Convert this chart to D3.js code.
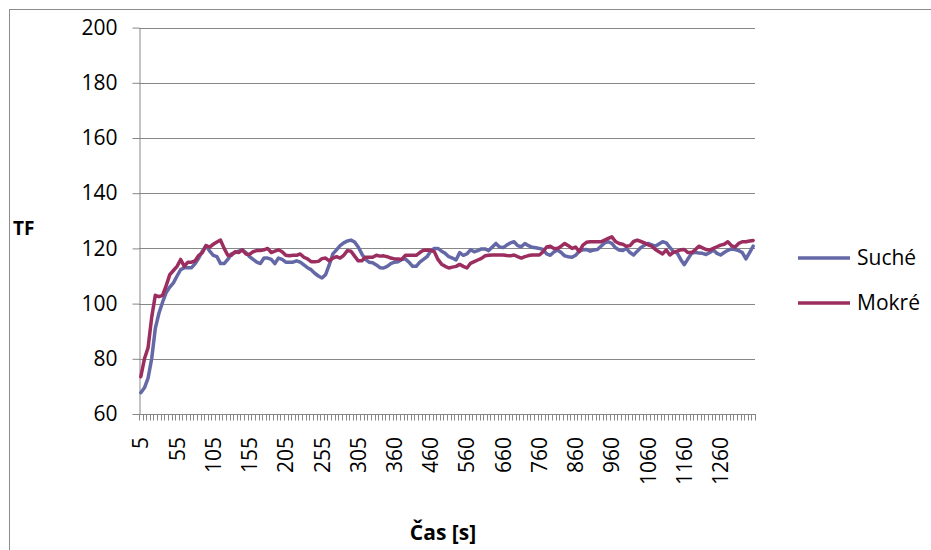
<!DOCTYPE html>
<html>
<head>
<meta charset="utf-8">
<script src="https://cdn.jsdelivr.net/npm/d3@7"></script>
<style>
  body { margin: 0; background: #fff; }
  text { font-family: "Open Sans", sans-serif; fill: #000; }
</style>
</head>
<body>
<svg id="chart" width="931" height="550"></svg>
<script>
// Time of each sample [s]
const times = [
  5, 10, 15, 20, 25, 30, 35, 40, 45, 50,
  55, 60, 65, 70, 75, 80, 85, 90, 95, 100,
  105, 110, 115, 120, 125, 130, 135, 140, 145, 150,
  155, 160, 165, 170, 175, 180, 185, 190, 195, 200,
  205, 210, 215, 220, 225, 230, 235, 240, 245, 250,
  255, 260, 265, 270, 275, 280, 285, 290, 295, 300,
  305, 310, 315, 320, 325, 330, 335, 340, 345, 350,
  360, 370, 380, 390, 400, 410, 420, 430, 440, 450,
  460, 470, 480, 490, 500, 510, 520, 530, 540, 550,
  560, 570, 580, 590, 600, 610, 620, 630, 640, 650,
  660, 670, 680, 690, 700, 710, 720, 730, 740, 750,
  760, 770, 780, 790, 800, 810, 820, 830, 840, 850,
  860, 870, 880, 890, 900, 910, 920, 930, 940, 950,
  960, 970, 980, 990, 1000, 1010, 1020, 1030, 1040, 1050,
  1060, 1070, 1080, 1090, 1100, 1110, 1120, 1130, 1140, 1150,
  1160, 1170, 1180, 1190, 1200, 1210, 1220, 1230, 1240, 1250,
  1260, 1270, 1280, 1290, 1300, 1310, 1320, 1330, 1340, 1350
];

// TF, dry surface
const suche = [
  67.7, 69.5, 73, 80, 91, 96.5, 100.5, 104, 106, 107.5,
  110, 112.3, 113, 113, 113, 114.5, 116.5, 119, 121, 119,
  117.5, 117, 114.5, 114.5, 116, 118, 118.5, 119, 119.5, 118.5,
  117, 116, 115, 114.5, 116.5, 116.5, 116, 114.5, 116.5, 116,
  115, 115, 115, 115.5, 115, 114, 113, 112.3, 111, 110,
  109.3, 110.5, 114, 118, 119.5, 121, 122, 122.7, 123, 122.3,
  120.5, 118, 116, 115, 114.8, 114, 113, 112.9, 113.5, 114.5,
  115, 115.2, 116, 116.2, 115, 113.5, 113.5, 115, 116, 117,
  119, 120, 120, 119, 118.2, 117, 116.5, 115.8, 118.5, 117.5,
  118, 119.5, 118.8, 119.2, 119.8, 119.8, 119.2, 120.5, 121.8, 120.5,
  120.3, 121.2, 122, 122.4, 121, 120.6, 121.8, 121, 120.4, 120.2,
  120, 119.6, 118, 117.5, 118.7, 119.4, 118.5, 117.3, 117, 116.8,
  117.5, 119, 119.5, 119.6, 119, 119.4, 119.6, 120.8, 122, 122.4,
  121.8, 120.2, 119.4, 119.2, 120, 118.5, 117.6, 119, 120.3, 121.2,
  121.8, 121.3, 120.8, 121.6, 122.4, 122, 120.4, 118.8, 118.4, 116,
  114.1, 116.2, 118.2, 118.6, 118.3, 118.2, 117.8, 118.5, 119.4, 118.2,
  117.6, 118.5, 119.3, 119.8, 119.6, 119.2, 118.5, 116.2, 118.5, 120.8
];

// TF, wet surface
const mokre = [
  73.5, 80, 84, 95, 103, 102.5, 103, 106.5, 110.5, 112,
  113.5, 116, 113.5, 115, 115, 115.5, 117.5, 118.5, 121, 120.5,
  121.5, 122.3, 123, 120, 117.5, 117.5, 118.8, 118.5, 119.5, 118,
  117.8, 118.8, 119.2, 119.2, 119.5, 120, 118.5, 119, 119.5, 118.8,
  117.5, 117.3, 117.5, 117.5, 118, 116.8, 116.2, 115.2, 115.2, 115.3,
  116.3, 116.5, 115.5, 116.5, 117, 116.5, 117.5, 119.2, 119, 117.2,
  115.5, 115.5, 116.8, 116.8, 116.8, 117.5, 117.2, 117.3, 117, 116.5,
  116.2, 116.2, 116, 117.5, 117.5, 117.5, 117.5, 118.5, 119.3, 119.4,
  119.3, 118.8, 116, 114.3, 113.5, 112.9, 113.2, 113.5, 114.2, 113.5,
  112.9, 114.6, 115.2, 115.8, 116.4, 117.3, 117.5, 117.6, 117.6, 117.6,
  117.6, 117.4, 117.3, 117.6, 117, 116.5, 117, 117.4, 117.6, 117.6,
  117.6, 118.8, 120.5, 120.8, 120, 120, 120.8, 121.8, 121, 120,
  120.5, 118.8, 121.2, 122.2, 122.4, 122.4, 122.4, 122.4, 123, 123.6,
  124.2, 122.5, 121.8, 121.5, 120.8, 121, 122.5, 123, 122.5, 122,
  121.3, 120.8, 119.6, 118.8, 118, 119.4, 117.6, 118.6, 119, 119.5,
  119.6, 118.5, 118.5, 119.5, 120.8, 120.2, 119.6, 119.4, 120, 120.6,
  121.2, 121.5, 122.4, 121, 120.5, 121.8, 122.4, 122.4, 122.7, 122.9
];

const yTicks = [60, 80, 100, 120, 140, 160, 180, 200];
const seriesNames = ["Suché", "Mokré"];
const seriesColors = ["#6568A6", "#9B2D5F"];
const labelStep = 10;

const svg = d3.select("#chart");
const plot = { left: 139, right: 755, top: 27.6, bottom: 414 };
const axisColor = "#878787";

// outer chart frame
svg.append("rect")
  .attr("x", 9.5).attr("y", 9.5)
  .attr("width", 960).attr("height", 580)
  .attr("fill", "none").attr("stroke", "#8c8c8c").attr("stroke-width", 1);

const x = d3.scaleBand().domain(times).range([plot.left, plot.right]).padding(0);
const y = d3.scaleLinear().domain([60, 200]).range([plot.bottom, plot.top]);
const cx = t => x(t) + x.bandwidth() / 2;

// horizontal gridlines
svg.append("g")
  .selectAll("line")
  .data(yTicks.filter(v => v > 60))
  .join("line")
  .attr("x1", plot.left).attr("x2", plot.right)
  .attr("y1", v => Math.round(y(v)) + 0.5).attr("y2", v => Math.round(y(v)) + 0.5)
  .attr("stroke", axisColor).attr("stroke-width", 1);

// y axis
const yAxis = svg.append("g")
  .attr("transform", `translate(${plot.left + 0.5},0)`)
  .call(d3.axisLeft(y).tickValues(yTicks).tickSize(7).tickPadding(15).tickSizeOuter(0));
yAxis.select(".domain").attr("stroke", axisColor);
yAxis.selectAll(".tick line").attr("stroke", axisColor);
yAxis.selectAll(".tick text")
  .style("font-family", "'Open Sans', sans-serif").style("font-size", "21px").attr("fill", "#000");

// x axis: tick marks between categories
const boundaries = times.map(t => x(t)).concat([plot.right]);
svg.append("g")
  .selectAll("line")
  .data(boundaries)
  .join("line")
  .attr("x1", d => Math.round(d) + 0.5).attr("x2", d => Math.round(d) + 0.5)
  .attr("y1", plot.bottom).attr("y2", plot.bottom + 6.5)
  .attr("stroke", axisColor).attr("stroke-width", 1);

svg.append("line")
  .attr("x1", plot.left).attr("x2", plot.right)
  .attr("y1", Math.round(plot.bottom) + 0.5).attr("y2", Math.round(plot.bottom) + 0.5)
  .attr("stroke", axisColor);

// x axis labels (every 10th category, rotated)
const labelled = times.filter((t, i) => i % labelStep === 0);
const xAxis = svg.append("g")
  .attr("transform", `translate(0,${plot.bottom})`)
  .call(d3.axisBottom(x).tickValues(labelled).tickSize(0));
xAxis.select(".domain").remove();
xAxis.selectAll(".tick text")
  .attr("transform", "rotate(-90)")
  .attr("x", -23).attr("y", 0).attr("dy", "0.36em")
  .attr("text-anchor", "end")
  .style("font-family", "'Open Sans', sans-serif").style("font-size", "21px").attr("fill", "#000");

// series lines
const line = d3.line().x((d, i) => cx(times[i])).y(d => y(d));
[suche, mokre].forEach((vals, k) => {
  svg.append("path")
    .datum(vals)
    .attr("d", line)
    .attr("fill", "none")
    .attr("stroke", seriesColors[k])
    .attr("stroke-width", 3.5)
    .attr("stroke-linejoin", "round")
    .attr("stroke-linecap", "round");
});

// axis titles
svg.append("text")
  .attr("x", 13).attr("y", 228).attr("dy", "0.35em")
  .style("font-size", "19px").style("font-weight", "bold")
  .text("TF");
svg.append("text")
  .attr("x", 443).attr("y", 533).attr("dy", "0.35em")
  .attr("text-anchor", "middle")
  .style("font-size", "21px").style("font-weight", "bold")
  .text("Čas [s]");

// legend
const legend = svg.append("g");
seriesNames.forEach((name, k) => {
  const ly = 258 + k * 45;
  legend.append("line")
    .attr("x1", 798).attr("x2", 850).attr("y1", ly).attr("y2", ly)
    .attr("stroke", seriesColors[k]).attr("stroke-width", 3.5);
  legend.append("text")
    .attr("x", 857).attr("y", ly).attr("dy", "0.35em")
    .style("font-size", "21px")
    .text(name);
});
</script>
</body>
</html>
